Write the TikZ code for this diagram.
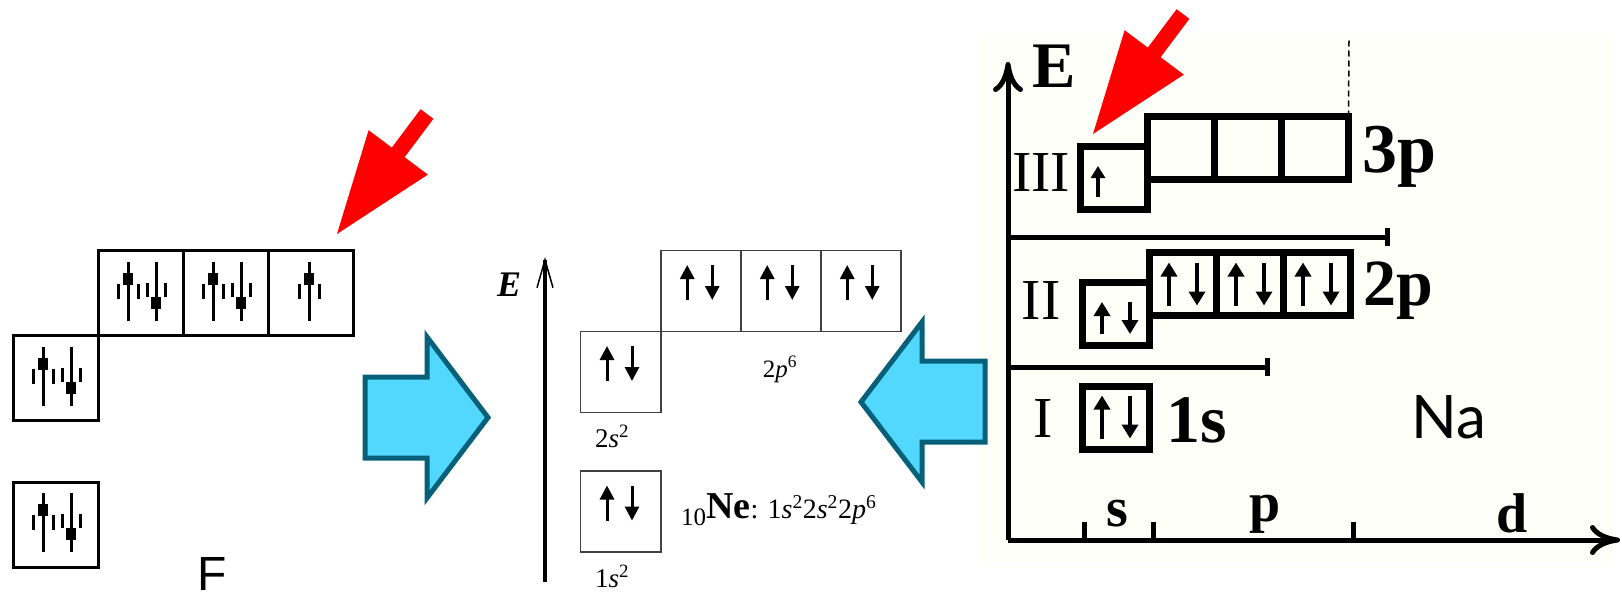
\documentclass[tikz,border=0pt]{standalone}
\usepackage{fontspec}
\setmainfont{Liberation Serif}
\newfontfamily\arialfont{Liberation Sans}
\newfontfamily\gillfont{Lato}
\usetikzlibrary{positioning,arrows.meta,calc}

\definecolor{arrowblue}{HTML}{52D7FD}
\definecolor{arrowedge}{HTML}{07607A}
\definecolor{napaper}{RGB}{255,255,249}

\newcommand{\fsize}[1]{\fontsize{#1}{#1}\selectfont}

\tikzset{
  fcell/.style={draw, line width=3pt, minimum width=85pt, minimum height=85pt, inner sep=0pt, outer sep=0pt},
  necell/.style={draw=black!75, line width=1.5pt, minimum width=80.5pt, minimum height=81pt, inner sep=0pt, outer sep=0pt},
  nacell/.style={draw, line width=7pt, minimum width=67pt, minimum height=63pt, inner sep=0pt, outer sep=0pt},
  fspin/.style={line width=3pt},
  spin/.style={line width=3pt, -{Triangle[length=14pt, width=14pt]}},
  naspin/.style={line width=4pt, -{Triangle[length=14pt, width=16pt]}},
  eaxis/.style={line width=3.5pt, -{Straight Barb[length=28pt, width=16pt, line width=1.5pt]}},
  naaxis/.style={line width=5pt, -{Computer Modern Rightarrow[length=30pt, width=30pt]}},
  level/.style={line width=5pt, -{Bar[width=18pt]}},
  blockarrow/.style={fill=arrowblue, draw=arrowedge, line width=5pt, line join=miter},
  txt/.style={inner sep=0pt, anchor=base},
}

% F-style spin glyphs: #1 box, #2 x offset of the shaft
\newcommand{\fup}[2]{%
  \coordinate (fs) at ($(#1.north west)+(#2,11)$);
  \draw[fspin] (fs) -- ++(0,59);
  \fill ($(fs)+(-5,11)$) rectangle ($(fs)+(5,23)$);
  \draw[fspin] ($(fs)+(-10,22)$) -- ++(0,15) ($(fs)+(10,22)$) -- ++(0,15);}
\newcommand{\fdown}[2]{%
  \coordinate (fs) at ($(#1.north west)+(#2,11)$);
  \draw[fspin] (fs) -- ++(0,59);
  \fill ($(fs)+(-5,35)$) rectangle ($(fs)+(5,47)$);
  \draw[fspin] ($(fs)+(-9,21)$) -- ++(0,14) ($(fs)+(9,21)$) -- ++(0,14);}
\newcommand{\nepair}[1]{%
  \draw[spin] ($(#1)+(-13.5,9)$) -- ($(#1)+(-13.5,-26)$);
  \draw[spin] ($(#1)+(11.5,-26)$) -- ($(#1)+(11.5,9)$);}
\newcommand{\napair}[3]{%
  \draw[naspin] ($(#1)+(-14,#3)$) -- ($(#1)+(-14,#2)$);
  \draw[naspin] ($(#1)+(14,#2)$) -- ($(#1)+(14,#3)$);}

\begin{document}
\begin{tikzpicture}[x=1pt, y=-1pt]
\useasboundingbox (0,0) rectangle (1622,602);

% fluorine
\node[fcell] (F2s) at (55.5,378) {};
\node[fcell, above right=0pt of F2s] (F2p1) {};
\node[fcell, right=0pt of F2p1] (F2p2) {};
\node[fcell, right=0pt of F2p2] (F2p3) {};
\node[fcell] (F1s) at (55.5,524.5) {};
\fup{F1s}{30} \fdown{F1s}{58}
\fup{F2s}{30} \fdown{F2s}{58}
\fup{F2p1}{30} \fdown{F2p1}{58}
\fup{F2p2}{30} \fdown{F2p2}{58}
\fup{F2p3}{41}
\node[txt, anchor=base west] (FName) at (197,590) {\arialfont\fsize{48}F};
\fill[red] (337,234) -- (368.6,130.2) -- (391.8,147.6) -- (420.6,109.2)
  -- (433.4,118.8) -- (404.6,157.2) -- (427.8,174.6) -- cycle;

% neon
\draw[blockarrow] (365,377) -- (427,377) -- (427,337) -- (488,417.5)
  -- (427,498) -- (427,458) -- (365,458) -- cycle;
\coordinate (NeAxB) at (545,582);
\coordinate (NeAxT) at (545,257);
\draw[eaxis] (NeAxB) -- (NeAxT);
\node (NeE) at (509,285) {\bfseries\itshape\fsize{36}E};
\node[necell] (Ne2s) at (620.5,372) {};
\node[necell, minimum width=80pt, above right=0pt of Ne2s] (Ne2p1) {};
\node[necell, minimum width=80pt, right=0pt of Ne2p1] (Ne2p2) {};
\node[necell, minimum width=80pt, right=0pt of Ne2p2] (Ne2p3) {};
\node[necell] (Ne1s) at (620.5,511.5) {};
\nepair{Ne1s} \nepair{Ne2s} \nepair{Ne2p1} \nepair{Ne2p2} \nepair{Ne2p3}
\node[txt] (Ne2pL) at (780,377) {\fsize{25}2\textit{p}\textsuperscript{6}};
\node[txt] (Ne2sL) at (612,447) {\fsize{27}2\textit{s}\textsuperscript{2}};
\node[txt] (Ne1sL) at (612,587) {\fsize{27}1\textit{s}\textsuperscript{2}};
\node[txt, anchor=base west] (NeCfg) at (681,518) {{\fsize{25}\raisebox{-7pt}{10}}{\bfseries\fsize{38}Ne}\fsize{28}: 1\textit{s}\textsuperscript{2}2\textit{s}\textsuperscript{2}2\textit{p}\textsuperscript{6}};

% sodium
\fill[napaper] (980,37) rectangle (1612,562);
\draw[blockarrow] (985,361) -- (922,361) -- (922,322) -- (861,402)
  -- (922,482) -- (922,442) -- (985,442) -- cycle;
\coordinate (O) at (1008,540);
\coordinate (NaAxT) at (1008,62);
\coordinate (NaAxR) at (1620,540);
\draw[naaxis] (O) -- (NaAxT);
\draw[naaxis] (O) -- (NaAxR);
\foreach \x in {1084,1153,1353} \draw[line width=5pt] (\x,540) -- (\x,522);
\coordinate (L23) at (1390,237);
\coordinate (L12) at (1270,367);
\draw[level] (O |- L23) -- (L23);
\draw[level] (O |- L12) -- (L12);
\node[nacell] (Na3s) at (1114,178) {};
\node[nacell, right=0pt of Na3s, yshift=30pt] (Na3p1) {};
\node[nacell, right=0pt of Na3p1] (Na3p2) {};
\node[nacell, right=0pt of Na3p2] (Na3p3) {};
\node[nacell] (Na2s) at (1116,314) {};
\node[nacell, right=0pt of Na2s, yshift=30pt] (Na2p1) {};
\node[nacell, right=0pt of Na2p1] (Na2p2) {};
\node[nacell, right=0pt of Na2p2] (Na2p3) {};
\node[nacell] (Na1s) at (1116,418) {};
\draw[naspin, line width=3.5pt, -{Triangle[length=12pt, width=14pt]}] ($(Na3s)+(-16,19)$) -- ($(Na3s)+(-16,-12)$);
\napair{Na2s}{-12}{20}
\napair{Na2p1}{-21.5}{21.5} \napair{Na2p2}{-21.5}{21.5} \napair{Na2p3}{-21.5}{21.5}
\napair{Na1s}{-22.5}{20.5}
\coordinate (NaDash) at (1349,40);
\draw[line width=1.5pt, dash pattern=on 6pt off 4pt] (Na3p3.north east) -- (NaDash);
\node (NaE) at (1054,66) {\bfseries\fsize{65}E};
\node (ShIII) at (1041,173) {\fsize{58}III};
\node (ShII) at (1041,301) {\fsize{58}II};
\node (ShI) at (1043,419) {\fsize{58}I};
\node[txt, anchor=base west] (Na3pL) at (1362,172) {\bfseries\fsize{70}3p};
\node[txt, anchor=base west] (Na2pL) at (1363,305) {\bfseries\fsize{66}2p};
\node[txt, anchor=base west] (Na1sL) at (1166,442) {\bfseries\fsize{68}1s};
\node[txt] (SubS) at (1117,526) {\bfseries\fsize{56}s};
\node[txt] (SubP) at (1265,521) {\bfseries\fsize{56}p};
\node[txt] (SubD) at (1512,532) {\bfseries\fsize{56}d};
\node[txt, anchor=base west] (NaName) at (1411,438) {\gillfont\fsize{60}Na};
\fill[red] (1093,134) -- (1124.6,30.2) -- (1147.8,47.6) -- (1176.6,9.2)
  -- (1189.4,18.8) -- (1160.6,57.2) -- (1183.8,74.6) -- cycle;
\end{tikzpicture}
\end{document}
